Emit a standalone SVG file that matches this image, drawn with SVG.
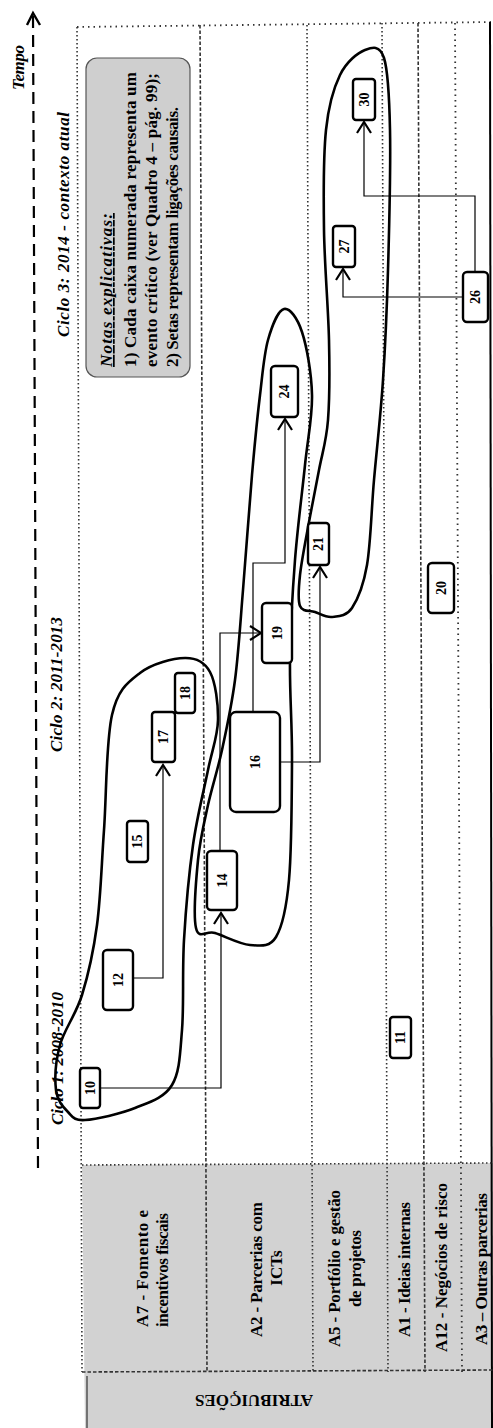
<svg xmlns="http://www.w3.org/2000/svg" width="493" height="1428" viewBox="0 0 493 1428">
<style>
.box{fill:#fff;stroke:#000;stroke-width:2.4}
.num{font-family:"Liberation Serif",serif;font-weight:bold;font-size:14px;text-anchor:middle;dominant-baseline:central}
.lane{font-family:"Liberation Serif",serif;font-weight:bold;font-size:17px;text-anchor:middle}
.cyc{font-family:"Liberation Serif",serif;font-weight:bold;font-style:italic;font-size:17px;text-anchor:start}
.note{font-family:"Liberation Serif",serif;font-weight:bold;font-size:17px;text-anchor:start}
.conn{fill:none;stroke:#000;stroke-width:1.2}
.blob{fill:none;stroke:#000;stroke-width:2.6;stroke-linejoin:round}
.dot{fill:none;stroke:#333;stroke-width:1.6;stroke-dasharray:1.5 2.5}
.dash{fill:none;stroke:#333;stroke-width:1.6;stroke-dasharray:3.5 2}
.sparse{fill:none;stroke:#333;stroke-width:1.8;stroke-dasharray:1.5 4}
</style>
<defs>
<marker id="chev" markerUnits="userSpaceOnUse" viewBox="-13 -9 15 18" markerWidth="15" markerHeight="18" refX="0" refY="0" orient="auto">
<path d="M-11,-7 L0,0 L-11,7" fill="none" stroke="#000" stroke-width="2.2"/>
</marker>
</defs>
<rect width="493" height="1428" fill="#fff"/>

<g id="header-bg">
<polygon points="82,1165 493,1163 493,1428 85,1428" fill="#d2d2d2"/>
</g>

<g id="grid">
<path class="sparse" d="M77,27 L493,22"/>
<path class="dot" d="M77,27 L82,1372"/>
<path class="dash" d="M200,25 L207,1372"/>
<path class="dot" d="M307,25 L313,1372"/>
<path class="dot" d="M382,23 L388,1372"/>
<path class="dash" d="M418,23 L425,1372"/>
<path class="sparse" d="M455,23 L462,1372"/>
<path d="M490,22 L492,1428" stroke="#000" stroke-width="2" fill="none"/>
<path class="dot" d="M82,1165 L493,1163"/>
<path class="dash" d="M82,1372 L493,1370"/>
<path d="M87,1376 L87,1428" stroke="#333" stroke-width="1.2" fill="none"/>
</g>

<g id="time-axis">
<path d="M38,1168 L33,16" stroke="#000" stroke-width="2.2" stroke-dasharray="12 7" fill="none"/>
<path d="M27,25 L33,13 L40,25" stroke="#000" stroke-width="2.4" fill="none"/>
<text class="cyc" font-size="15" transform="translate(24,90) rotate(-90)" textLength="45">Tempo</text>
</g>

<g id="cycles">
<text class="cyc" transform="translate(63,1125) rotate(-90)" textLength="133">Ciclo 1: 2008-2010</text>
<text class="cyc" transform="translate(62,752) rotate(-90)" textLength="135">Ciclo 2: 2011-2013</text>
<text class="cyc" transform="translate(69,337) rotate(-90)" textLength="225">Ciclo 3: 2014 - contexto atual</text>
</g>

<g id="notes">
<rect x="86" y="58" width="104" height="319" rx="11" fill="#cfcfcf" stroke="#555" stroke-width="1.2"/>
<text class="note" font-style="italic" text-decoration="underline" transform="translate(112,367) rotate(-90)" textLength="154">Notas explicativas:</text>
<text class="note" transform="translate(136,367) rotate(-90)" textLength="295">1) Cada caixa numerada representa um</text>
<text class="note" transform="translate(157,367) rotate(-90)" textLength="294">evento crítico (ver Quadro 4 – pág. 99);</text>
<text class="note" transform="translate(178,367) rotate(-90)" textLength="260">2) Setas representam ligações causais.</text>
</g>

<g id="lane-labels">
<g id="lane-A7">
<text class="lane" transform="translate(148,1268.5) rotate(-90)" textLength="117">A7 - Fomento e</text>
<text class="lane" transform="translate(168,1270) rotate(-90)" textLength="114">incentivos fiscais</text>
</g>
<g id="lane-A2">
<text class="lane" transform="translate(262,1269.5) rotate(-90)" textLength="135">A2 - Parcerias com</text>
<text class="lane" transform="translate(282,1268) rotate(-90)">ICTs</text>
</g>
<g id="lane-A5">
<text class="lane" transform="translate(340,1268.5) rotate(-90)" textLength="157">A5 - Portfólio e gestão</text>
<text class="lane" transform="translate(361,1268.5) rotate(-90)" textLength="77">de projetos</text>
</g>
<g id="lane-A1">
<text class="lane" transform="translate(410,1269.5) rotate(-90)" textLength="135">A1 - Ideias internas</text>
</g>
<g id="lane-A12">
<text class="lane" transform="translate(447,1267.5) rotate(-90)" textLength="169">A12 - Negócios de risco</text>
</g>
<g id="lane-A3">
<text class="lane" transform="translate(487,1269) rotate(-90)" textLength="152">A3 – Outras parcerias</text>
</g>
<g id="atribuicoes">
<text class="lane" font-size="15" transform="translate(254,1395) rotate(180)" textLength="118">ATRIBUIÇÕES</text>
</g>
</g>

<g id="clusters">
<path id="cluster-1" class="blob" d="M85,1120 C96.2,1119.3 120.5,1113.8 135,1108 C149.5,1102.2 164.2,1098 172,1085 C179.8,1072 180,1054.2 182,1030 C184,1005.8 182.2,970.8 184,940 C185.8,909.2 189,873.3 193,845 C197,816.7 203.8,790.8 208,770 C212.2,749.2 217.7,736.3 218,720 C218.3,703.7 215.5,682.3 210,672 C204.5,661.7 196.7,657.8 185,658 C173.3,658.2 152.2,663.5 140,673 C127.8,682.5 118,688.8 112,715 C106,741.2 106.5,795 104,830 C101.5,865 100.7,897.5 97,925 C93.3,952.5 88.2,975 82,995 C75.8,1015 64.3,1029.2 60,1045 C55.7,1060.8 54.7,1078.8 56,1090 C57.3,1101.2 63.2,1107 68,1112 C72.8,1117 73.8,1120.7 85,1120 Z"/>
<path id="cluster-2" class="blob" d="M196,928 C193.2,915.8 196,880.5 198,860 C200,839.5 204,823.3 208,805 C212,786.7 217.5,770.8 222,750 C226.5,729.2 231.5,706.7 235,680 C238.5,653.3 240.2,624.2 243,590 C245.8,555.8 249.2,507.5 252,475 C254.8,442.5 257.3,417.5 260,395 C262.7,372.5 264,354.3 268,340 C272,325.7 278.3,310.3 284,309 C289.7,307.7 297.3,317.7 302,332 C306.7,346.3 311.5,372.8 312,395 C312.5,417.2 307.8,437.5 305,465 C302.2,492.5 297.5,527.5 295,560 C292.5,592.5 290.5,626.7 290,660 C289.5,693.3 292.2,723.3 292,760 C291.8,796.7 291.7,850.5 289,880 C286.3,909.5 282.5,926.2 276,937 C269.5,947.8 260.2,945.7 250,945 C239.8,944.3 224,935.8 215,933 C206,930.2 198.8,940.2 196,928 Z"/>
<path id="cluster-3" class="blob" d="M300,606 C297.5,599.8 298.5,589 300,575 C301.5,561 305.8,539.5 309,522 C312.2,504.5 315.8,487 319,470 C322.2,453 326.3,441.7 328,420 C329.7,398.3 329.7,371.7 329,340 C328.3,308.3 324.5,265 324,230 C323.5,195 323.3,155.8 326,130 C328.7,104.2 333.5,88.3 340,75 C346.5,61.7 357.7,52.8 365,50 C372.3,47.2 379.8,44.7 384,58 C388.2,71.3 389.3,94.7 390,130 C390.7,165.3 389.2,228.3 388,270 C386.8,311.7 385.3,345 383,380 C380.7,415 376.7,449.2 374,480 C371.3,510.8 370.7,543.7 367,565 C363.3,586.3 357.8,599.3 352,608 C346.2,616.7 338.2,616.3 332,617 C325.8,617.7 320.3,613.8 315,612 C309.7,610.2 302.5,612.2 300,606 Z"/>
</g>

<g id="connectors">
<path id="c10-14" class="conn" marker-end="url(#chev)" d="M100,1088 H221 V913"/>
<path id="c12-17" class="conn" marker-end="url(#chev)" d="M133,978 H163 V765"/>
<path id="c14-19" class="conn" marker-end="url(#chev)" d="M220,851 V633 H261"/>
<path id="c16-24" class="conn" marker-end="url(#chev)" d="M253,712 V563 H285 V419"/>
<path id="c16-21" class="conn" marker-end="url(#chev)" d="M280,762 H320 V567"/>
<path id="c26-27" class="conn" marker-end="url(#chev)" d="M463,297 H343 V269"/>
<path id="c26-30" class="conn" marker-end="url(#chev)" d="M475,272 V196 H364 V122"/>
</g>

<g id="n10"><rect class="box" x="80" y="1068" width="20" height="40" rx="3"/><text class="num" transform="translate(90,1088) rotate(-90)">10</text></g>
<g id="n11"><rect class="box" x="390" y="1017" width="21" height="41" rx="3"/><text class="num" transform="translate(400.5,1037.5) rotate(-90)">11</text></g>
<g id="n12"><rect class="box" x="103" y="950" width="30" height="60" rx="4"/><text class="num" transform="translate(118,980) rotate(-90)">12</text></g>
<g id="n14"><rect class="box" x="207" y="851" width="30" height="59" rx="4"/><text class="num" transform="translate(222,880.5) rotate(-90)">14</text></g>
<g id="n15"><rect class="box" x="127" y="821" width="21" height="41" rx="3"/><text class="num" transform="translate(137.5,841.5) rotate(-90)">15</text></g>
<g id="n16"><rect class="box" x="230" y="712" width="50" height="100" rx="6"/><text class="num" transform="translate(255,762) rotate(-90)">16</text></g>
<g id="n17"><rect class="box" x="152" y="712" width="23" height="50" rx="3"/><text class="num" transform="translate(163.5,737) rotate(-90)">17</text></g>
<g id="n18"><rect class="box" x="175" y="673" width="20" height="40" rx="3"/><text class="num" transform="translate(185,693) rotate(-90)">18</text></g>
<g id="n19"><rect class="box" x="262" y="603" width="30" height="60" rx="4"/><text class="num" transform="translate(277,633) rotate(-90)">19</text></g>
<g id="n20"><rect class="box" x="428" y="563" width="26" height="50" rx="4"/><text class="num" transform="translate(441,588) rotate(-90)">20</text></g>
<g id="n21"><rect class="box" x="308" y="523" width="21" height="42" rx="3"/><text class="num" transform="translate(318.5,544) rotate(-90)">21</text></g>
<g id="n24"><rect class="box" x="271" y="366" width="27" height="51" rx="4"/><text class="num" transform="translate(284.5,391.5) rotate(-90)">24</text></g>
<g id="n26"><rect class="box" x="463" y="272" width="25" height="50" rx="4"/><text class="num" transform="translate(475.5,297) rotate(-90)">26</text></g>
<g id="n27"><rect class="box" x="333" y="226" width="22" height="41" rx="3"/><text class="num" transform="translate(344,246.5) rotate(-90)">27</text></g>
<g id="n30"><rect class="box" x="353" y="79" width="22" height="41" rx="3"/><text class="num" transform="translate(364,99.5) rotate(-90)">30</text></g>
</svg>
